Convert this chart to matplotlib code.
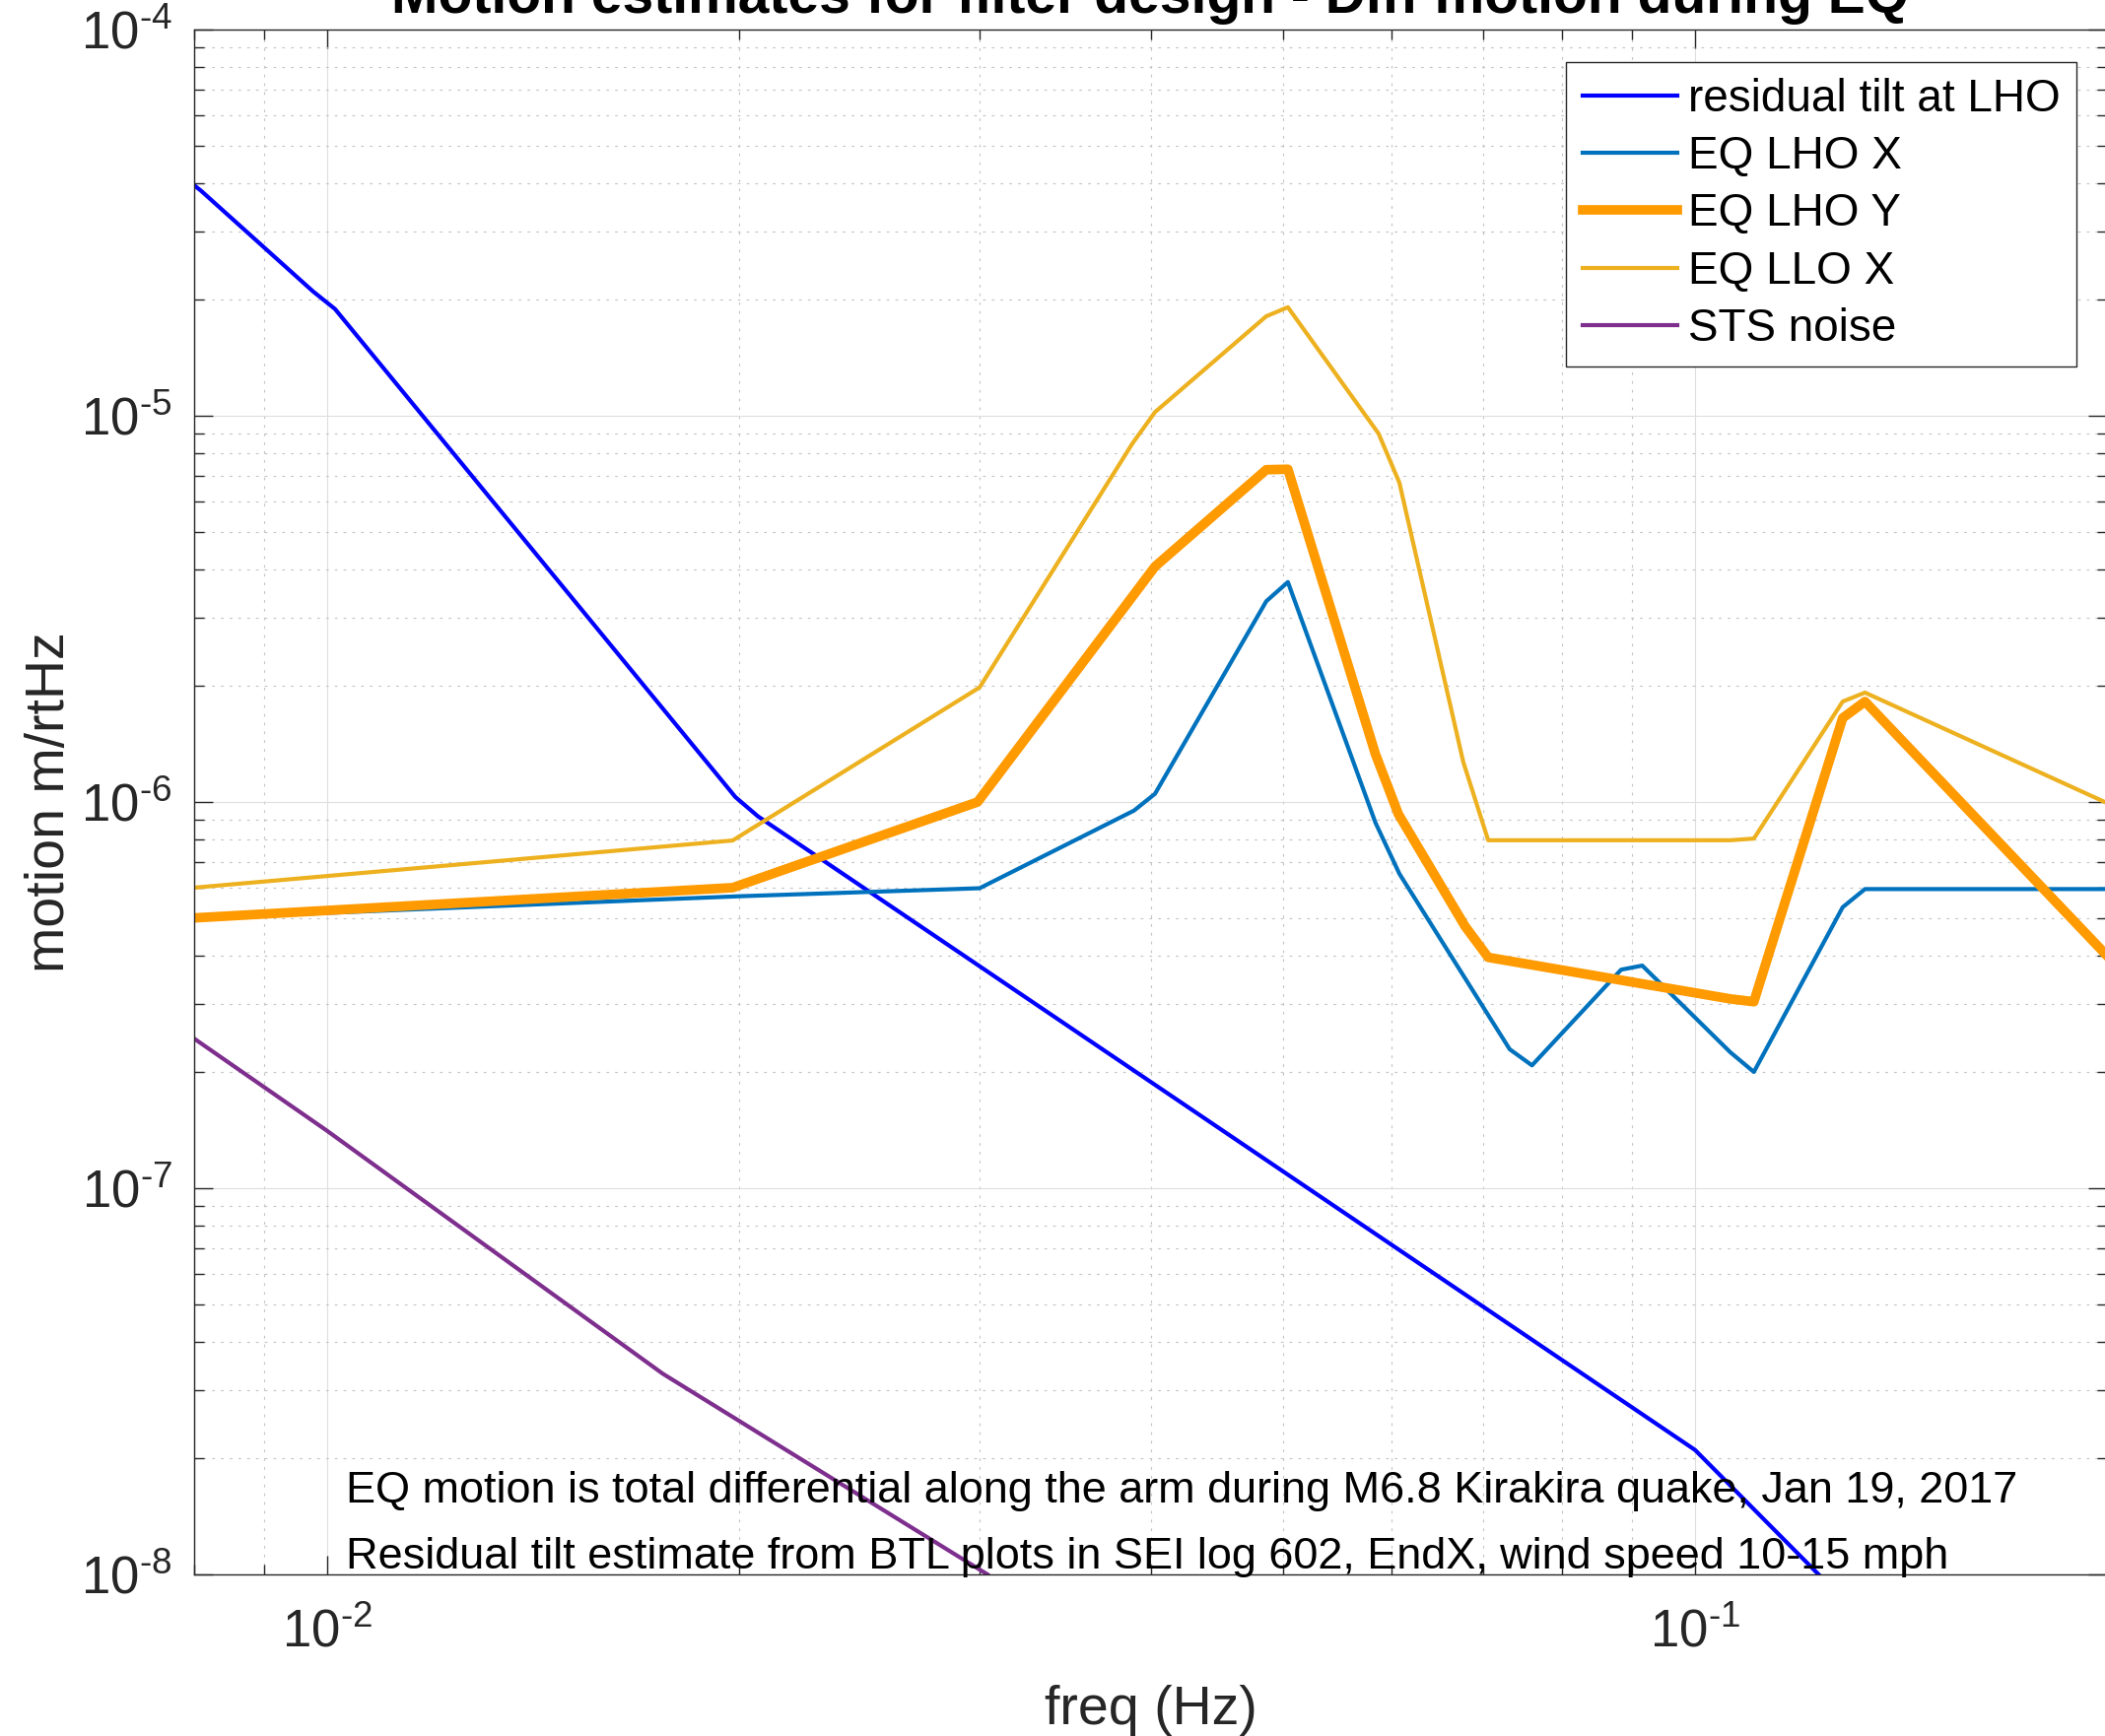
import matplotlib
matplotlib.use("Agg")
import matplotlib.pyplot as plt
from matplotlib.ticker import LogLocator, FuncFormatter, NullFormatter
import numpy as np

plt.rcParams.update({
    'font.family': ['Liberation Sans', 'DejaVu Sans'],
    'mathtext.fontset': 'custom',
    'mathtext.rm': 'Liberation Sans',
    'mathtext.it': 'Liberation Sans:italic',
    'mathtext.bf': 'Liberation Sans:bold',
})

# values (freq in Hz, motion in m/rtHz)
tilt_f = [0.008, 0.00809, 0.00977, 0.01014, 0.01989, 0.02066, 0.1, 0.1231]
tilt_y = [3.95e-5, 3.83e-5, 2.10e-5, 1.89e-5, 1.03e-6, 9.18e-7, 2.1e-8, 1.0e-8]

lhox_f = [0.008, 0.02, 0.03, 0.0389, 0.0403, 0.0486, 0.0504, 0.0584, 0.0608,
          0.0732, 0.0760, 0.0883, 0.0915, 0.1061, 0.1104, 0.1282, 0.1331, 0.2]
lhox_y = [5.0e-7, 5.7e-7, 5.98e-7, 9.5e-7, 1.05e-6, 3.31e-6, 3.71e-6, 8.84e-7, 6.52e-7,
          2.29e-7, 2.08e-7, 3.68e-7, 3.77e-7, 2.25e-7, 2.0e-7, 5.34e-7, 5.95e-7, 5.95e-7]

lhoy_f = [0.008, 0.0198, 0.0299, 0.0403, 0.0486, 0.0504, 0.0584, 0.0607,
          0.0679, 0.0706, 0.1062, 0.1104, 0.1282, 0.1331, 0.2]
lhoy_y = [5.01e-7, 6.0e-7, 1.0e-6, 4.07e-6, 7.25e-6, 7.27e-6, 1.33e-6, 9.3e-7,
          4.77e-7, 3.96e-7, 3.09e-7, 3.04e-7, 1.65e-6, 1.82e-6, 4.0e-7]

llox_f = [0.008, 0.0198, 0.03, 0.0388, 0.0403, 0.0486, 0.0504, 0.0587, 0.0608,
          0.0677, 0.0706, 0.1061, 0.1104, 0.1282, 0.1331, 0.2]
llox_y = [6.0e-7, 7.95e-7, 1.98e-6, 8.48e-6, 1.022e-5, 1.81e-5, 1.91e-5, 9.0e-6, 6.71e-6,
          1.27e-6, 7.96e-7, 7.96e-7, 8.04e-7, 1.82e-6, 1.92e-6, 9.94e-7]

sts_f = [0.008, 0.01, 0.0176, 0.0304]
sts_y = [2.44e-7, 1.41e-7, 3.31e-8, 1.0e-8]

note1 = 'EQ motion is total differential along the arm during M6.8 Kirakira quake, Jan 19, 2017'
note2 = 'Residual tilt estimate from BTL plots in SEI log 602, EndX, wind speed 10-15 mph'

W, H = 2136, 1762
fig = plt.figure(figsize=(W / 100, H / 100), dpi=100)
ax = fig.add_axes([197 / W, 1 - 1598 / H, 1941 / W, 1568 / H])

ax.loglog(tilt_f, tilt_y, color='#0000FF', lw=3.0, label='residual tilt at LHO')
ax.loglog(lhox_f, lhox_y, color='#0072BD', lw=3.0, label='EQ LHO X')
ax.loglog(lhoy_f, lhoy_y, color='#FF9A00', lw=7.0, label='EQ LHO Y')
ax.loglog(llox_f, llox_y, color='#EDB120', lw=3.0, label='EQ LLO X')
ax.loglog(sts_f, sts_y, color='#7E2F8E', lw=3.0, label='STS noise')

ax.set_xlim(0.008, 0.2)
ax.set_ylim(1e-8, 1e-4)


def decade_label(v, pos):
    return r'$10^{\text{%d}}$' % round(np.log10(v))


ax.set_axisbelow(True)
for a in (ax.xaxis, ax.yaxis):
    a.set_major_locator(LogLocator(base=10, numticks=20))
    a.set_minor_locator(LogLocator(base=10, subs=np.arange(2, 10), numticks=20))
    a.set_minor_formatter(NullFormatter())
    a.set_major_formatter(FuncFormatter(decade_label))

ax.grid(True, which='major', color='#DEDEDE', lw=0.8, ls='-')
ax.grid(True, which='minor', color='#C4C4C4', lw=0.8, ls=(0, (2.5, 5.5)))

ax.tick_params(which='both', direction='in', top=True, right=True, color='#262626',
               labelcolor='#262626', width=1.0)
ax.tick_params(which='major', length=14, labelsize=38)
ax.tick_params(which='minor', length=7.2)
ax.tick_params(axis='x', which='major', pad=25)
ax.tick_params(axis='y', which='major', pad=16)
for s in ax.spines.values():
    s.set_color('#262626')
    s.set_linewidth(1.0)

ax.set_xlabel('freq (Hz)', fontsize=40, color='#262626', va='baseline')
ax.xaxis.set_label_coords(0.5, -(1750 - 1598) / 1568)
ax.set_ylabel('motion m/rtHz', fontsize=40, color='#262626', va='baseline')
ax.yaxis.set_label_coords(-(197 - 65) / 1941, 0.5)
ax.set_title('Motion estimates for filter design - Diff motion during EQ',
             fontsize=41, fontweight='bold', pad=12)

ax.text(0.0794, 0.0466, note1, transform=ax.transAxes, fontsize=32.4, va='baseline')
ax.text(0.0794, 0.0038, note2, transform=ax.transAxes, fontsize=32.4, va='baseline')

leg = ax.legend(loc='upper right', bbox_to_anchor=((2107 - 197) / 1941, 1 - 33 / 1568),
                borderaxespad=0, fontsize=33, handlelength=2.1, handletextpad=0.25,
                borderpad=0.35, labelspacing=0.31, fancybox=False, framealpha=1)
leg.get_frame().set_edgecolor('#262626')
leg.get_frame().set_linewidth(1.0)

fig.savefig('out.png', dpi=100)
